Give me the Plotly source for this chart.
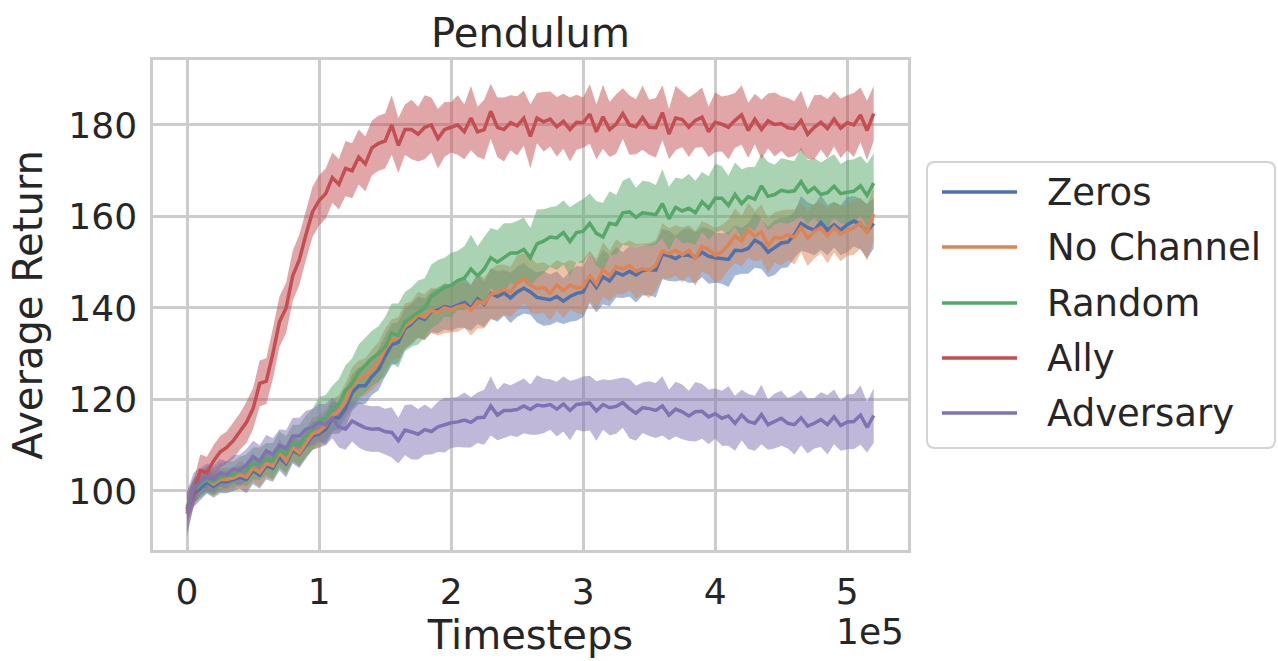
import plotly.graph_objects as go

TIMESTEPS = [0, 5000, 10000, 15000, 20000, 25000, 30000, 35000, 40000, 45000,
             50000, 55000, 60000, 65000, 70000, 75000, 80000, 85000, 90000, 95000,
             100000, 105000, 110000, 115000, 120000, 125000, 130000, 135000, 140000, 145000,
             150000, 155000, 160000, 165000, 170000, 175000, 180000, 185000, 190000, 195000,
             200000, 205000, 210000, 215000, 220000, 225000, 230000, 235000, 240000, 245000,
             250000, 255000, 260000, 265000, 270000, 275000, 280000, 285000, 290000, 295000,
             300000, 305000, 310000, 315000, 320000, 325000, 330000, 335000, 340000, 345000,
             350000, 355000, 360000, 365000, 370000, 375000, 380000, 385000, 390000, 395000,
             400000, 405000, 410000, 415000, 420000, 425000, 430000, 435000, 440000, 445000,
             450000, 455000, 460000, 465000, 470000, 475000, 480000, 485000, 490000, 495000,
             500000, 505000, 510000, 515000, 520000]

SERIES_NAMES = ["Zeros", "No Channel", "Random", "Ally", "Adversary"]

ZEROS_MEAN = [95.5, 99.5, 100.5, 102, 101, 102, 102, 102.5, 103, 102.5,
              104.5, 103.5, 105.5, 105, 107.5, 106, 109, 108, 110, 112,
              112.5, 113.5, 116, 116, 118, 121.5, 123, 123, 125, 126.5,
              129.5, 132, 132.5, 135.5, 136.5, 138, 137.5, 139.2, 139.5, 140.3,
              140, 140.7, 141.2, 140, 142, 140.8, 143.2, 142.5, 143.3, 142.2,
              143.5, 144.3, 143.5, 142.3, 142.1, 141.8, 142.5, 141.5, 142.5, 143.2,
              143.5, 146.5, 144.5, 146.8, 145.9, 147.8, 147.2, 148, 147.2, 148.2,
              148.3, 148.3, 151.8, 151.4, 150.8, 151.6, 151.5, 151, 152.2, 151.3,
              151, 150.8, 150.6, 152.6, 152.5, 153, 154.8, 154, 152.2, 153.2,
              154.2, 154.4, 156, 158.5, 157.6, 157, 158.7, 157, 158.2, 157,
              158.2, 159, 158.3, 156.8, 158.5]
ZEROS_HW = [4.5, 3, 2.5, 2.5, 2.5, 2.5, 2.5, 2.5, 2.5, 3, 3,
            3, 3, 3, 3, 3, 3, 3, 3, 3, 3,
            3.5, 3.5, 3.5, 4, 4, 4, 4, 4, 4.5, 4.5,
            4.5, 4.5, 4.5, 4.5, 4.5, 4.5, 4.5, 5, 5, 5,
            5, 5.5, 5, 5.5, 5, 5.5, 5.5, 5, 5.5, 5.5,
            5.5, 5, 5.5, 6, 5.5, 5.5, 5, 5.5, 6, 5.5,
            5.5, 5.5, 6, 5.5, 5.5, 5, 5.5, 6, 5.5, 5.5,
            6, 5.5, 5.5, 5, 5.5, 6, 5.5, 5.5, 6, 5.5,
            5.5, 6, 5.5, 5, 5.5, 6, 5.5, 5.5, 6, 5.5,
            5.5, 5, 6, 5.5, 5.5, 6, 5.5, 5, 5.5, 6,
            5.5, 5.5, 6, 5.5]

NOCHAN_MEAN = [96, 100, 101.5, 102.5, 101.5, 102.5, 102.5, 102.8, 103.5, 103,
               105, 104, 106, 105.5, 108.3, 106.5, 109.5, 108.3, 110.5, 112.5,
               113, 114.3, 116.5, 117.5, 119.5, 123, 124.5, 125, 126.5, 128,
               131, 133, 133.5, 136, 137, 138.5, 138, 139.5, 139, 140,
               139.6, 140.3, 140.6, 139.5, 141.5, 141, 143, 143.4, 144, 143.5,
               145.5, 146.5, 145, 144.2, 144.5, 143.2, 145, 143.8, 145, 144.4,
               144.6, 147, 145.2, 148.4, 147, 149, 148.5, 149.3, 148, 148.6,
               148.2, 149.3, 152.5, 151.9, 152.6, 151.6, 152.6, 150.8, 153.5, 152.8,
               151.5, 152.2, 153.8, 155.8, 154.6, 157, 155.7, 156.6, 153.6, 155.4,
               155.3, 156, 155.5, 157.6, 155.2, 156.8, 157.5, 155.8, 157.6, 156.2,
               156.9, 157.6, 158.6, 156.4, 160.5]
NOCHAN_HW = [3.5, 3, 2.5, 2.5, 2.5, 2.5, 2.5, 2.5, 3, 3, 3,
             3, 3, 3, 3, 3, 3, 3, 3, 3.5, 3.5,
             3.5, 3.5, 3.5, 4, 4, 4, 4, 4.5, 4.5, 4.5,
             4.5, 4.5, 5, 4.5, 5, 5, 5, 5, 5.5, 5,
             5.5, 5, 5.5, 6, 5.5, 5.5, 6, 5.5, 5.5, 6,
             5.5, 6, 5.5, 5.5, 6, 5.5, 6, 5.5, 5.5, 6,
             5.5, 5.5, 6, 5.5, 6, 5.5, 5.5, 6, 5.5, 6,
             5.5, 6, 5.5, 5.5, 6, 5.5, 6, 5.5, 5.5, 6,
             6, 5.5, 6, 5.5, 6, 5.5, 6, 6, 5.5, 6,
             5.5, 6, 5.5, 6, 6, 5.5, 6, 5.5, 6, 5.5,
             6, 5.5, 6, 6]

RANDOM_MEAN = [96.5, 100, 101.5, 102.5, 102, 103, 103.5, 103.5, 104.5, 104.5,
               106, 106, 107, 106.5, 109, 108, 110.5, 110, 112, 113.5,
               115.5, 116, 118, 119, 122, 123.5, 126, 127.5, 129, 130,
               131.5, 134.5, 134, 137, 138, 139, 140, 142.5, 143.5, 144.5,
               145, 146, 146.5, 148.5, 147, 148.5, 151, 150, 151, 152,
               152, 152.8, 151, 154, 154.6, 155.5, 155.3, 156.5, 154.5, 156.5,
               156.8, 158.5, 156.3, 155.5, 158.5, 158.2, 160.8, 161, 159.8, 160.8,
               160.6, 160.4, 162.8, 159.5, 162, 161.2, 161.8, 160.8, 163.2, 161.8,
               164, 164, 162.4, 164.8, 162.8, 164.3, 163.8, 166.7, 164.4, 164.8,
               165.7, 165.4, 165.6, 167.6, 165.3, 166.3, 164.8, 165.2, 166.6, 165,
               165.3, 165.5, 166.7, 164.6, 167.3]
RANDOM_HW = [2.5, 2.5, 3, 3, 3, 3, 3, 3, 3, 3.5, 3.5,
             3.5, 3.5, 4, 4, 4, 4, 4.5, 4.5, 4.5, 5,
             5, 5, 5.5, 5.5, 5.5, 6, 6, 6, 6, 6.5,
             6.5, 7, 6.5, 6.5, 7, 6.5, 7, 7, 6.5, 7,
             6.5, 7, 7.5, 6.5, 7, 6.5, 7, 7.5, 6.5, 7,
             7, 6.5, 7.5, 7, 6.5, 7, 7, 7.5, 6.5, 7,
             6.5, 7, 7.5, 7, 6.5, 7, 7.5, 6.5, 7, 7,
             6.5, 7.5, 7, 6.5, 7, 7.5, 7, 6.5, 7, 7.5,
             7, 6.5, 7, 7.5, 6.5, 7, 7, 7.5, 6.5, 7,
             7, 6.5, 7.5, 7, 6.5, 7, 7.5, 7, 6.5, 7,
             7, 6.5, 7, 6.5]

ALLY_MEAN = [96, 99.5, 104.5, 104, 106.5, 108.5, 109.5, 111, 113, 115,
             118, 123.5, 124, 130, 137, 140, 147, 150.5, 156, 161,
             163.5, 165, 168.5, 167, 170.5, 170, 173, 171.5, 175, 176,
             176.5, 180, 175.5, 179, 179, 178, 179.5, 180, 177, 179,
             179.5, 180, 178.5, 181.5, 178.5, 179, 183, 179.5, 179, 180.5,
             179.8, 181.5, 177.5, 181.5, 180.7, 181.3, 179.6, 180.8, 179, 180.6,
             180.5, 182.4, 178.5, 181.8, 179, 180.2, 182.5, 180, 179.6, 181.6,
             179.5, 179.4, 182.7, 178, 181.5, 181.2, 179.5, 181, 181.7, 178.5,
             180.6, 180.2, 179.5, 181, 182.2, 178.8, 181.3, 179, 180.9, 180.1,
             180.3, 179.4, 179.2, 181, 178, 179.5, 180.6, 179.2, 181.3, 179.3,
             180.5, 180, 182.2, 178.8, 182.5]
ALLY_HW = [2.5, 3, 3.5, 3.5, 3.5, 3.5, 3.5, 4, 4, 4.5, 4.5,
           5, 5, 5.5, 5.5, 5.5, 5.5, 5.5, 5.5, 5.5, 5.5,
           5.5, 5.5, 5.5, 6, 6, 6, 6, 6, 6, 6,
           6.5, 6, 5.5, 6.5, 6, 7, 6, 6.5, 6, 5.5,
           6.5, 6, 7, 5.5, 6.5, 6, 6.5, 7, 6, 6.5,
           6, 7, 5.5, 6.5, 6, 6.5, 6, 7, 6, 5.5,
           6.5, 6, 7, 6, 6.5, 5.5, 6.5, 6, 7, 6,
           6.5, 6, 5.5, 7, 6, 6.5, 6, 6.5, 5.5, 6.5,
           6, 7, 6, 6.5, 6, 5.5, 6.5, 6, 7, 6,
           6.5, 6, 6.5, 5.5, 7, 6, 6.5, 6, 6.5, 6,
           7, 6, 6.5, 6]

ADV_MEAN = [95, 100.5, 102, 103, 102.5, 104, 103.5, 104.8, 104.5, 105.7,
            107.5, 106.5, 108.8, 108, 110, 109.3, 112, 112, 113.5, 114,
            115, 114.5, 116, 114, 113.5, 115.3, 114.5, 113.8, 113.5, 113.6,
            113, 112.8, 111, 113.3, 112.9, 112.4, 113.4, 113, 114, 114.4,
            114.9, 115.1, 115.5, 115, 116, 116.1, 118.6, 116.6, 117.6, 117.6,
            117.8, 118.6, 117.8, 118.8, 118.6, 118.9, 117.9, 119, 117.6, 118.9,
            119, 119.2, 117.5, 118.9, 118.2, 118.5, 119.3, 118, 117, 118.2,
            118, 117.6, 118.6, 116.6, 117.9, 117.3, 116.4, 117.3, 117.4, 116.2,
            116.9, 115.9, 116.4, 114.8, 116.6, 115.2, 114.8, 116.7, 114.5, 115.3,
            115.9, 114.8, 114.5, 116, 114.2, 114.8, 115.6, 114.5, 116.2, 114.3,
            115.1, 115.2, 116.6, 113.9, 116.5]
ADV_HW = [5, 3.5, 3, 3, 3, 3, 3, 3, 3.5, 3.5, 3.5,
          3.5, 3.5, 3.5, 3.5, 4, 4, 4, 4, 4, 4,
          4.5, 4.5, 4.5, 4.5, 4.5, 5, 5, 5, 5, 5,
          5.5, 5, 5.5, 6, 5.5, 5.5, 5, 5.5, 6, 5.5,
          5.5, 6, 5.5, 5.5, 6, 6.5, 5.5, 6, 5.5, 6,
          6, 5.5, 6.5, 6, 5.5, 6, 6, 6.5, 5.5, 6,
          6, 6.5, 5.5, 6, 6, 5.5, 6.5, 6, 5.5, 6,
          6, 6.5, 5.5, 6, 6, 5.5, 6.5, 6, 6, 5.5,
          6, 6.5, 6, 5.5, 6, 6, 6.5, 5.5, 6, 6,
          5.5, 6.5, 6, 6, 5.5, 6, 6.5, 6, 5.5, 6,
          6, 6.5, 5.5, 6]

X_TICKS = [0, 100000, 200000, 300000, 400000, 500000]
X_TICK_LABELS = ["0", "1", "2", "3", "4", "5"]
Y_TICKS = [100, 120, 140, 160, 180]

COLORS = [(76, 114, 176), (221, 132, 82), (85, 168, 104), (196, 78, 82), (129, 114, 179)]
MEANS = [ZEROS_MEAN, NOCHAN_MEAN, RANDOM_MEAN, ALLY_MEAN, ADV_MEAN]
HWS = [ZEROS_HW, NOCHAN_HW, RANDOM_HW, ALLY_HW, ADV_HW]

FONT = "DejaVu Sans"
TXT = "#262626"
GRID = "#cccccc"

# plot-area geometry (pixels) used to place the hand-made legend
W, H = 1278, 661
L, R, T, B = 153, 370, 60, 111
PW, PH = W - L - R, H - T - B


def px_x(px):
    return (px - L) / PW


def px_y(py):
    return (H - B - py) / PH


fig = go.Figure()

# bands (drawn below all lines, like matplotlib zorder)
for name, col, m, hw in zip(SERIES_NAMES, COLORS, MEANS, HWS):
    upper = [a + b for a, b in zip(m, hw)]
    lower = [a - b for a, b in zip(m, hw)]
    fig.add_trace(go.Scatter(x=TIMESTEPS, y=upper, mode="lines",
                             line=dict(width=0, color="rgba(0,0,0,0)"),
                             showlegend=False, hoverinfo="skip"))
    fig.add_trace(go.Scatter(x=TIMESTEPS, y=lower, mode="lines",
                             line=dict(width=0, color="rgba(0,0,0,0)"),
                             fill="tonexty",
                             fillcolor="rgba(%d,%d,%d,0.5)" % col,
                             showlegend=False, hoverinfo="skip"))

for name, col, m in zip(SERIES_NAMES, COLORS, MEANS):
    fig.add_trace(go.Scatter(x=TIMESTEPS, y=m, mode="lines", name=name,
                             showlegend=False,
                             line=dict(width=3.5, color="rgb(%d,%d,%d)" % col)))

fig.update_layout(
    width=W, height=H,
    margin=dict(l=L, r=R, t=T, b=B, autoexpand=False),
    paper_bgcolor="white", plot_bgcolor="white",
    font=dict(family=FONT, color=TXT, size=36),
    title=dict(text="Pendulum", x=(L + PW / 2) / W, xanchor="center",
               y=1 - 33 / H, yanchor="middle", yref="container",
               font=dict(size=40, color=TXT)),
    showlegend=False,
)

fig.update_xaxes(range=[-25800, 546000], tickvals=X_TICKS, ticktext=X_TICK_LABELS,
                 showgrid=True, gridcolor=GRID, gridwidth=2.5,
                 showline=True, linecolor=GRID, linewidth=2.5, mirror=True,
                 zeroline=False, ticks="", tickfont=dict(size=36, color=TXT),
                 ticklabelstandoff=8,
                 title=dict(text="Timesteps", font=dict(size=40, color=TXT), standoff=4))
fig.update_yaxes(range=[87.1, 194.2], tickvals=Y_TICKS,
                 showgrid=True, gridcolor=GRID, gridwidth=2.5,
                 showline=True, linecolor=GRID, linewidth=2.5, mirror=True,
                 zeroline=False, ticks="", tickfont=dict(size=36, color=TXT),
                 ticklabelstandoff=6,
                 title=dict(text="Average Return", font=dict(size=40, color=TXT), standoff=14))

fig.add_annotation(text="1e5", xref="paper", yref="paper", x=px_x(906), y=px_y(631),
                   xanchor="right", yanchor="middle", showarrow=False,
                   font=dict(size=36, color=TXT, family=FONT))

# hand-made legend (long line samples, rounded frame) like matplotlib's
bx0, bx1, by0, by1, rad = 927, 1275, 162, 448, 8
rx, ry = rad / PW, rad / PH
X0, X1, Y0, Y1 = px_x(bx0), px_x(bx1), px_y(by1), px_y(by0)
path = (f"M {X0 + rx},{Y0} L {X1 - rx},{Y0} Q {X1},{Y0} {X1},{Y0 + ry} "
        f"L {X1},{Y1 - ry} Q {X1},{Y1} {X1 - rx},{Y1} L {X0 + rx},{Y1} "
        f"Q {X0},{Y1} {X0},{Y1 - ry} L {X0},{Y0 + ry} Q {X0},{Y0} {X0 + rx},{Y0} Z")
fig.add_shape(type="path", path=path, xref="paper", yref="paper",
              line=dict(color="#d3d3d3", width=2), fillcolor="white", layer="above")

ROW_Y = [192, 247, 303, 358, 413]
for name, col, ry_px in zip(SERIES_NAMES, COLORS, ROW_Y):
    fig.add_shape(type="line", xref="paper", yref="paper",
                  x0=px_x(942), x1=px_x(1017), y0=px_y(ry_px), y1=px_y(ry_px),
                  line=dict(color="rgb(%d,%d,%d)" % col, width=3.5), layer="above")
    fig.add_annotation(text=name, xref="paper", yref="paper",
                       x=px_x(1045), y=px_y(ry_px), xanchor="left", yanchor="middle",
                       showarrow=False, font=dict(size=37, color=TXT, family=FONT))

fig.write_html("out.html", post_script="document.body.style.margin='0';",
               config={"displayModeBar": False})
